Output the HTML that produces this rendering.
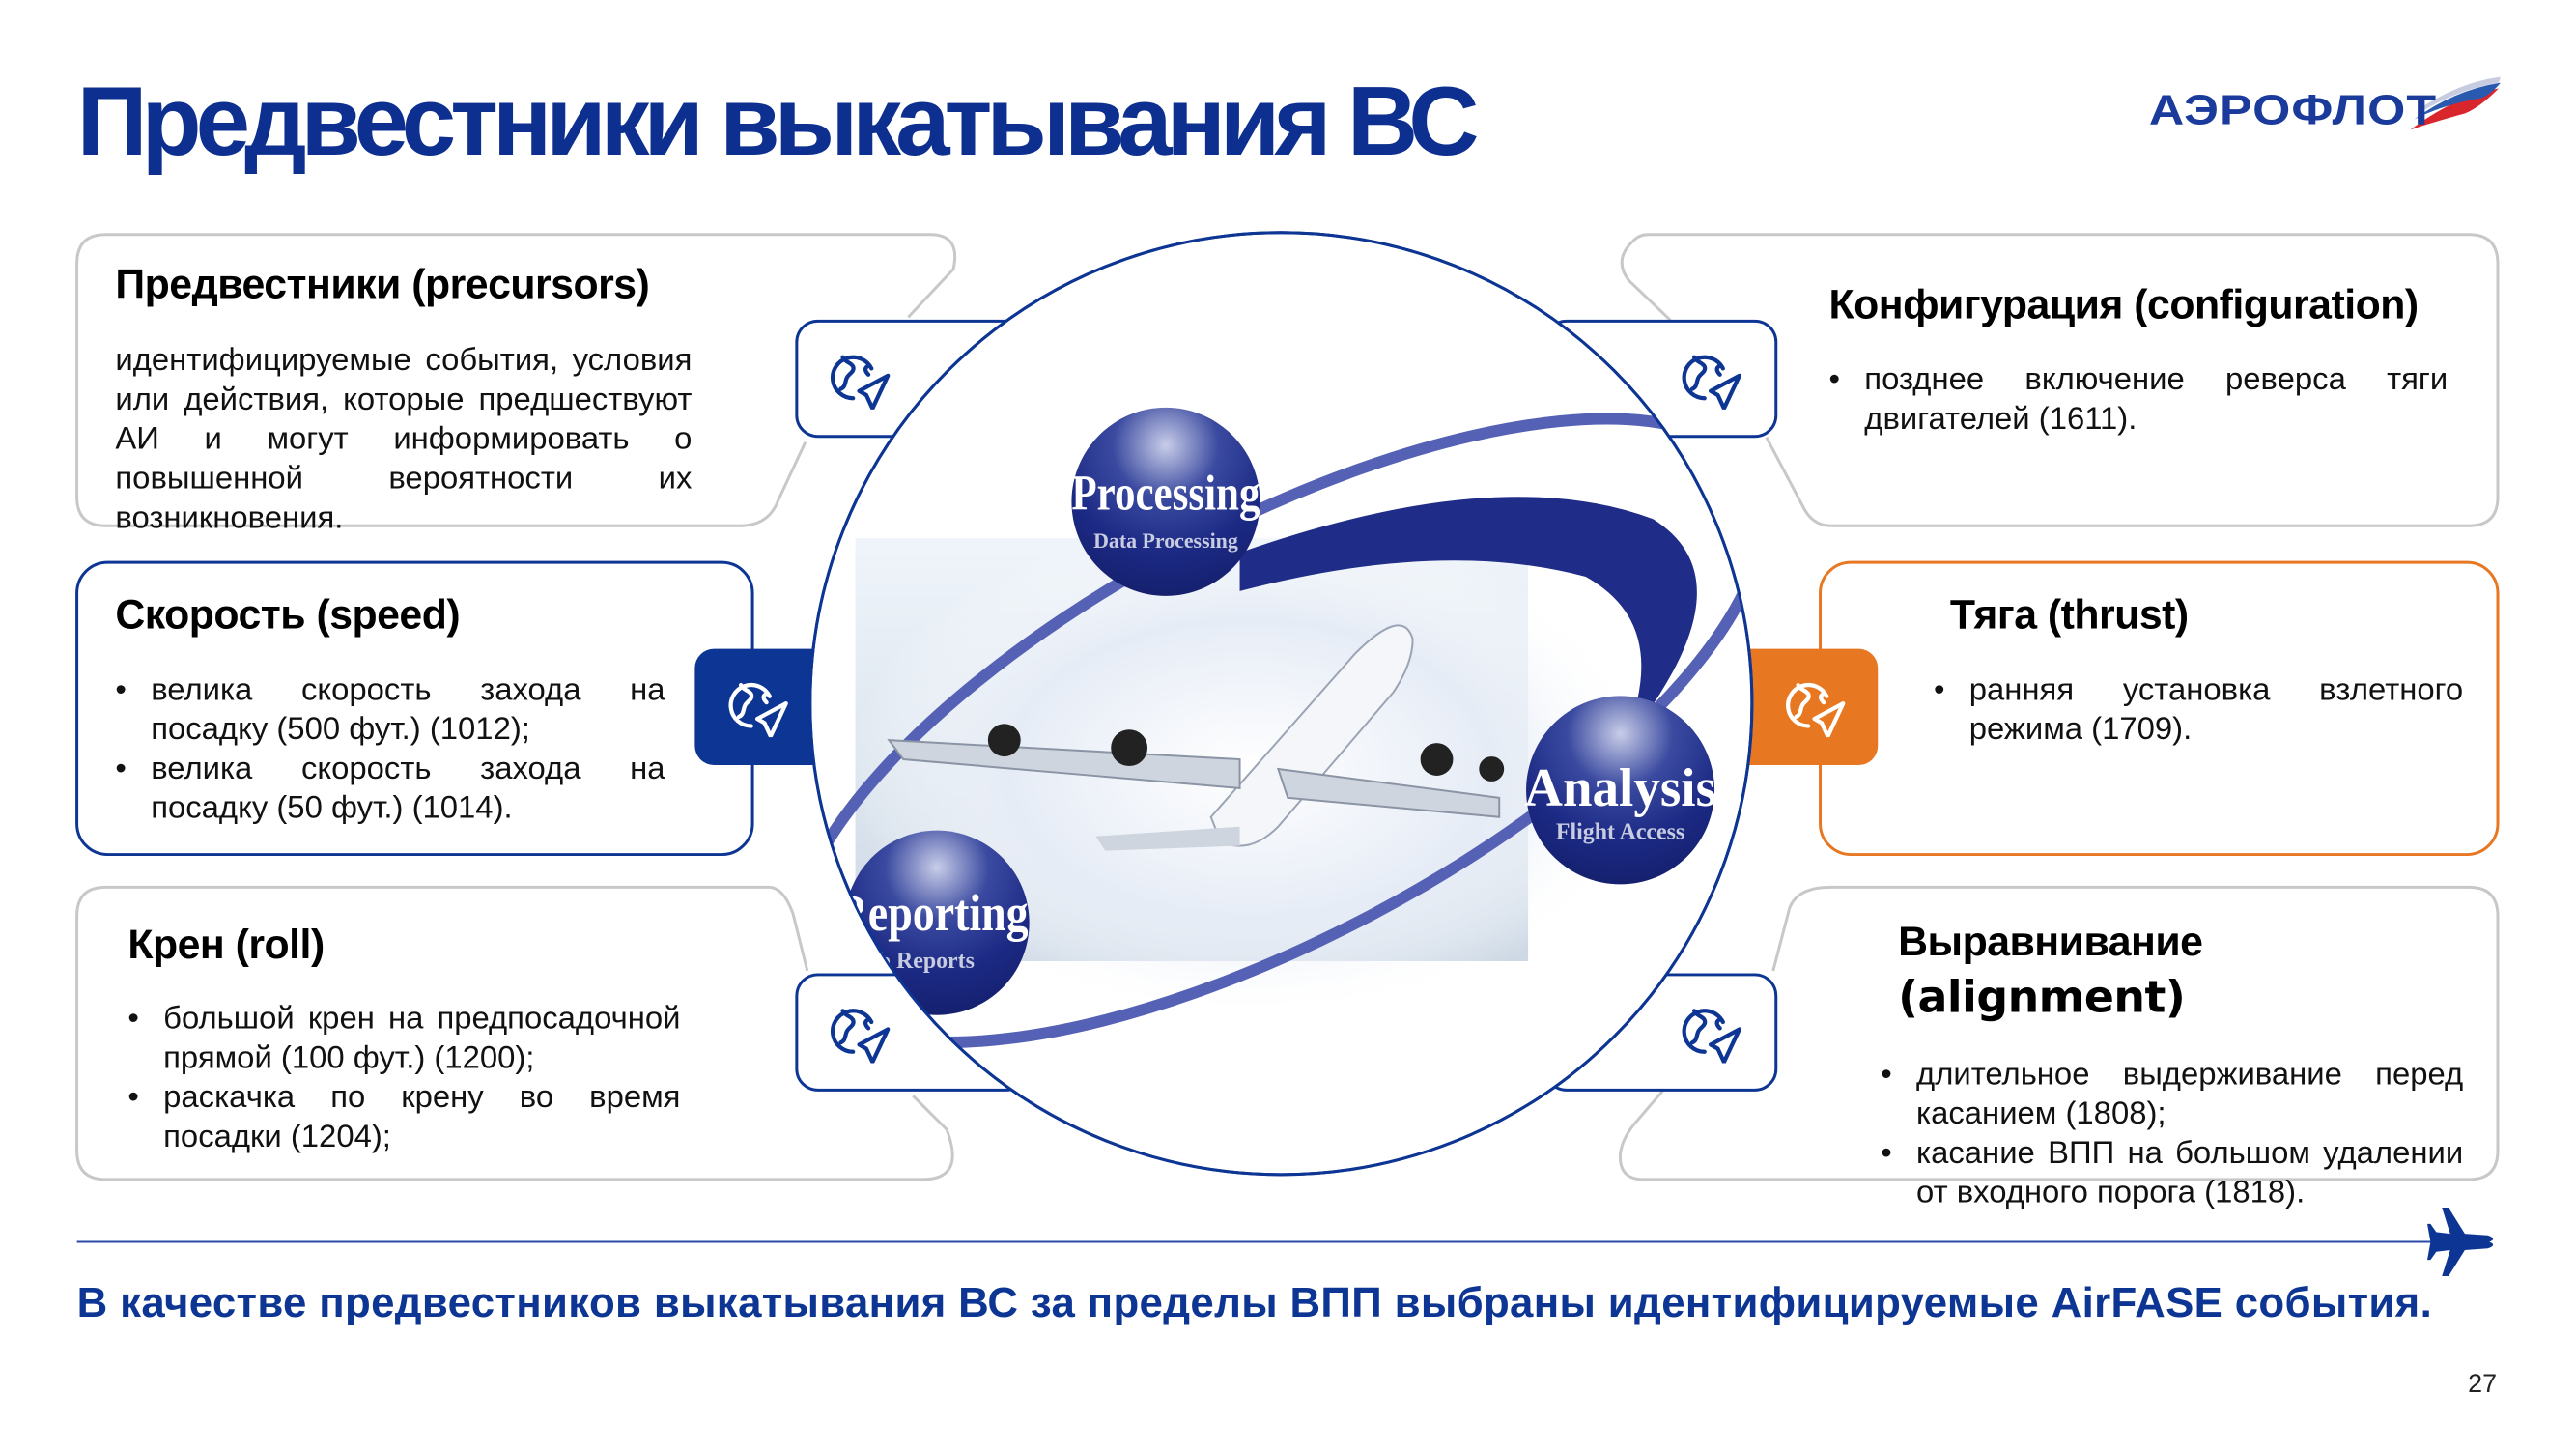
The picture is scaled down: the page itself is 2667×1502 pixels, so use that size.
<!DOCTYPE html>
<html><head><meta charset="utf-8"><style>
html,body{margin:0;padding:0;background:#fff}
body{width:2667px;height:1500px;position:relative;overflow:hidden;font-family:"Liberation Sans",Arial,sans-serif;color:#111}
#w{position:absolute;left:0;top:0;width:2680px;height:1510px;transform:scale(0.995);transform-origin:0 0}
.t{position:absolute;white-space:nowrap}
.h{position:absolute;font-weight:bold;font-size:43px;letter-spacing:-0.5px;color:#000;white-space:nowrap}
.p{position:absolute;font-size:33px;line-height:41px;text-align:justify;text-align-last:left;color:#111}
.p ul{margin:0;padding:0;list-style:none}
.p li{position:relative;padding-left:37px}
.p li:before{content:"•";position:absolute;left:0;top:0}
</style></head><body><div id="w">
<svg width="2680" height="1510" style="position:absolute;left:0;top:0">
<defs>
<symbol id="ic" viewBox="0 0 60 60">
<g fill="none" stroke="currentColor" stroke-width="4" stroke-linecap="round" stroke-linejoin="round">
<path d="M24 49 A20 20 0 1 1 42 20"/>
<path d="M14 9 C16 14 22 14 24 18 C26 23 20 25 18 29 C16 33 17 38 12 40"/>
<path d="M38 18 C35 20 36 23 39 26"/>
<path d="M58 27 L30 42 L37 46 L43 59 Z"/>
</g></symbol>
<radialGradient id="sph" cx="50%" cy="20%" r="80%"><stop offset="0" stop-color="#c8cde8"/><stop offset="0.35" stop-color="#3b4aa0"/><stop offset="0.7" stop-color="#1c2a85"/><stop offset="1" stop-color="#15206e"/></radialGradient>
<radialGradient id="glow" cx="50%" cy="50%" r="50%"><stop offset="0" stop-color="#ffffff"/><stop offset="0.6" stop-color="#e6ecf6"/><stop offset="1" stop-color="#ffffff" stop-opacity="0"/></radialGradient>
<linearGradient id="bg" x1="0" y1="0" x2="0" y2="1"><stop offset="0" stop-color="#e8f0f8"/><stop offset="1" stop-color="#b8c8da"/></linearGradient>
<clipPath id="cc"><circle cx="1333" cy="732" r="489"/></clipPath>
</defs>
<g fill="none" stroke="#c8c8c8" stroke-width="3">
<path d="M945 330 L992 280 Q1000 244 968 244 H110 Q80 244 80 274 V517 Q80 547 110 547 H770 Q800 547 810 520 L838 460"/>
<path d="M840 1010 L825 950 Q815 923 800 923 H110 Q80 923 80 953 V1197 Q80 1227 110 1227 H960 Q1005 1227 985 1175 L950 1140"/>
<path d="M1738 333 L1695 292 Q1678 270 1700 250 Q1706 244 1715 244 H2569 Q2599 244 2599 274 V517 Q2599 547 2569 547 H1905 Q1885 547 1875 525 L1838 455"/>
<path d="M1845 1010 L1862 945 Q1870 923 1905 923 H2569 Q2599 923 2599 953 V1197 Q2599 1227 2569 1227 H1710 Q1684 1227 1686 1200 Q1688 1185 1700 1170 L1730 1135"/>
</g>
<rect x="80" y="585" width="703" height="304" rx="32" fill="none" stroke="#0d3593" stroke-width="3"/>
<rect x="1894" y="585" width="705" height="304" rx="32" fill="none" stroke="#e87722" stroke-width="3"/>
<rect x="829" y="334" width="240" height="120" rx="22" fill="#fff" stroke="#0d3593" stroke-width="3"/>
<rect x="829" y="1014" width="240" height="120" rx="22" fill="#fff" stroke="#0d3593" stroke-width="3"/>
<rect x="1608" y="334" width="240" height="120" rx="22" fill="#fff" stroke="#0d3593" stroke-width="3"/>
<rect x="1608" y="1014" width="240" height="120" rx="22" fill="#fff" stroke="#0d3593" stroke-width="3"/>
<rect x="723" y="675" width="200" height="121" rx="20" fill="#0d3593"/>
<rect x="1750" y="675" width="204" height="121" rx="20" fill="#e87722"/>
<circle cx="1333" cy="732" r="490" fill="#fff" stroke="#0d3593" stroke-width="3"/>
<g clip-path="url(#cc)">
<rect x="890" y="560" width="700" height="440" fill="url(#bg)" opacity="0.7"/>
<ellipse cx="1300" cy="800" rx="420" ry="260" fill="url(#glow)"/>
<ellipse cx="1330" cy="760" rx="560" ry="215" transform="rotate(-28 1330 760)" fill="none" stroke="#5561b5" stroke-width="12"/>
<path d="M1290 575 Q1560 480 1720 540 Q1800 590 1740 700 Q1715 745 1690 770 Q1740 650 1650 600 Q1500 560 1290 615 Z" fill="#1f2c88"/>
<path d="M1260 850 L1410 680 Q1460 630 1470 665 Q1470 690 1450 720 L1330 860 Q1300 890 1270 875 Z" fill="#f4f6f9" stroke="#9aa4b4" stroke-width="2"/>
<path d="M925 770 L1290 790 L1290 820 L940 790 Z" fill="#cfd5de" stroke="#8a94a4" stroke-width="2"/>
<path d="M1330 800 L1560 830 L1560 850 L1340 830 Z" fill="#cfd5de" stroke="#8a94a4" stroke-width="2"/>
<circle cx="1045" cy="770" r="17" fill="#222"/><circle cx="1175" cy="778" r="19" fill="#222"/>
<circle cx="1495" cy="790" r="17" fill="#222"/><circle cx="1552" cy="800" r="13" fill="#222"/>
<path d="M1140 870 L1290 860 L1290 880 L1150 885 Z" fill="#cfd5de"/>
<circle cx="1213" cy="522" r="98" fill="url(#sph)"/>
<circle cx="1686" cy="822" r="98" fill="url(#sph)"/>
<circle cx="975" cy="960" r="96" fill="url(#sph)"/>
</g>
<circle cx="1333" cy="732" r="490" fill="none" stroke="#0d3593" stroke-width="3"/>
<text x="1213" y="530" font-family="Liberation Serif,serif" font-weight="bold" font-size="52" fill="#fff" text-anchor="middle" textLength="196" lengthAdjust="spacingAndGlyphs">Processing</text>
<text x="1213" y="570" font-family="Liberation Serif,serif" font-weight="bold" font-size="22" fill="#c8cce0" text-anchor="middle">Data Processing</text>
<text x="1686" y="838" font-family="Liberation Serif,serif" font-weight="bold" font-size="56" fill="#fff" text-anchor="middle" textLength="200" lengthAdjust="spacingAndGlyphs">Analysis</text>
<text x="1686" y="873" font-family="Liberation Serif,serif" font-weight="bold" font-size="24" fill="#c8cce0" text-anchor="middle">Flight Access</text>
<g clip-path="url(#cc)">
<text x="870" y="968" font-family="Liberation Serif,serif" font-weight="bold" font-size="54" fill="#fff" textLength="200" lengthAdjust="spacingAndGlyphs">Reporting</text>
<text x="880" y="1007" font-family="Liberation Serif,serif" font-weight="bold" font-size="24" fill="#c8cce0">Web Reports</text>
</g>
<use href="#ic" x="862" y="362" width="64" height="64" style="color:#0d3593"/>
<use href="#ic" x="862" y="1042" width="64" height="64" style="color:#0d3593"/>
<use href="#ic" x="1748" y="362" width="64" height="64" style="color:#0d3593"/>
<use href="#ic" x="1748" y="1042" width="64" height="64" style="color:#0d3593"/>
<use href="#ic" x="756" y="703" width="64" height="64" style="color:#fff"/>
<use href="#ic" x="1856" y="703" width="64" height="64" style="color:#fff"/>
<line x1="80" y1="1292" x2="2530" y2="1292" stroke="#2a4aa5" stroke-width="2"/>
<g transform="translate(2535 1292) scale(0.85) translate(-2535 -1292)">
<path d="M2530 1292 L2600 1292 Q2610 1288 2598 1284 L2570 1282 L2550 1250 L2542 1250 L2552 1282 L2535 1280 L2528 1270 L2524 1270 L2528 1292 Z M2530 1292 L2600 1292 Q2610 1296 2598 1300 L2570 1302 L2550 1334 L2542 1334 L2552 1302 L2535 1304 L2528 1314 L2524 1314 L2528 1292 Z" fill="#0d3593"/>
</g>
<path d="M2508 135 Q2555 100 2600 92 Q2580 112 2565 118 Q2535 126 2508 135 Z" fill="#d8262c"/>
<path d="M2512 124 Q2555 93 2602 86 Q2592 98 2582 102 Q2545 108 2512 124 Z" fill="#2a5ab0"/>
<path d="M2516 114 Q2560 85 2602 80 L2600 86 Q2560 92 2516 118 Z" fill="#c8cce0"/>
</svg>
<div class="t" style="left:80px;top:68px;font-size:102px;font-weight:bold;color:#0d2f8f;letter-spacing:-6px">Предвестники выкатывания ВС</div>
<div class="t" style="left:2236px;top:90px;font-size:44px;font-weight:900;color:#1a3a9c;letter-spacing:1px;transform:scaleX(1.15);transform-origin:0 0">АЭРОФЛОТ</div>

<div class="h" style="left:120px;top:272px">Предвестники (precursors)</div>
<div class="p" style="left:120px;top:353px;width:600px">идентифицируемые события, условия или действия, которые предшествуют АИ и могут информировать о повышенной вероятности их возникновения.</div>

<div class="h" style="left:120px;top:616px">Скорость (speed)</div>
<div class="p" style="left:120px;top:696px;width:572px"><ul><li>велика скорость захода на посадку (500 фут.) (1012);</li><li>велика скорость захода на посадку (50 фут.) (1014).</li></ul></div>

<div class="h" style="left:133px;top:959px">Крен (roll)</div>
<div class="p" style="left:133px;top:1038px;width:575px"><ul><li>большой крен на предпосадочной прямой (100 фут.) (1200);</li><li>раскачка по крену во время посадки (1204);</li></ul></div>

<div class="h" style="left:1903px;top:293px">Конфигурация (configuration)</div>
<div class="p" style="left:1903px;top:373px;width:644px"><ul><li>позднее включение реверса тяги двигателей (1611).</li></ul></div>

<div class="h" style="left:2029px;top:616px">Тяга (thrust)</div>
<div class="p" style="left:2012px;top:696px;width:551px"><ul><li>ранняя установка взлетного режима (1709).</li></ul></div>

<div class="h" style="left:1975px;top:956px">Выравнивание</div>
<div class="h" style="left:1975px;top:1010px;font-family:'DejaVu Sans',sans-serif;font-size:46px">(alignment)</div>
<div class="p" style="left:1957px;top:1096px;width:606px"><ul><li>длительное выдерживание перед касанием (1808);</li><li>касание ВПП на большом удалении от входного порога (1818).</li></ul></div>

<div class="t" style="left:80px;top:1331px;font-size:44px;font-weight:bold;color:#0d3593;letter-spacing:0.35px">В качестве предвестников выкатывания ВС за пределы ВПП выбраны идентифицируемые AirFASE события.</div>
<div class="t" style="left:2568px;top:1424px;font-size:27px;color:#222">27</div>
</div></body></html>
